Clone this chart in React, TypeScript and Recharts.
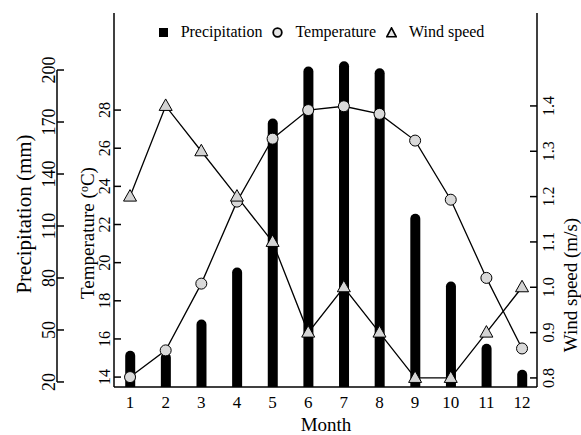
import { ComposedChart, Bar, Line, XAxis, YAxis, Legend, ReferenceLine } from "recharts";

const months = [1, 2, 3, 4, 5, 6, 7, 8, 9, 10, 11, 12];
const precipitation = [38, 37, 56, 86, 172, 202, 205, 201, 117, 78, 42, 27];
const temperature = [14.0, 15.4, 18.9, 23.2, 26.5, 28.0, 28.2, 27.8, 26.4, 23.3, 19.2, 15.5];
const windSpeed = [1.2, 1.4, 1.3, 1.2, 1.1, 0.9, 1.0, 0.9, 0.8, 0.8, 0.9, 1.0];

const precipTicks = [20, 50, 80, 110, 140, 170, 200];
const tempTicks = [14, 16, 18, 20, 22, 24, 26, 28];
const windTicks = [0.8, 0.9, 1.0, 1.1, 1.2, 1.3, 1.4];

const data = months.map((m, i) => ({
  month: m,
  precipitation: precipitation[i],
  temperature: temperature[i],
  wind: windSpeed[i],
}));

const FONT = "'Liberation Serif', 'Times New Roman', serif";
const W = 581;
const H = 435;
const TOP = 13;
const FRAME_L = 114;
const FRAME_R = 537;
const PRECIP_X = 57;

const xDomain = [0.55, 12.42];
const precipDomain = [17.1, 232.9];
const tempDomain = [13.48, 33.09];
const windDomain = [0.78, 1.605];

// the precipitation axis sits left of the box and only spans 20..200,
// so it is drawn as a reference segment placed outside the x range
const pxPerMonth = (FRAME_R - FRAME_L) / (xDomain[1] - xDomain[0]);
const precipAxisAt = xDomain[0] - (FRAME_L - PRECIP_X) / pxPerMonth;

// rotated (-90) text whose glyphs are centred on cx
const VText = ({ cx, cy, size, children }: any) => {
  const bx = cx + size * 0.35;
  return (
    <text
      x={bx}
      y={cy}
      transform={`rotate(-90 ${bx} ${cy})`}
      textAnchor="middle"
      fontFamily={FONT}
      fontSize={size}
      fill="#000"
    >
      {children}
    </text>
  );
};

const PrecipTick = (props: any) => {
  const y = Number(props.y);
  return (
    <g>
      <line x1={PRECIP_X} x2={PRECIP_X + 7} y1={y} y2={y} stroke="#000" strokeWidth={1.5} />
      <VText cx={49} cy={y} size={18}>
        {props.payload.value}
      </VText>
    </g>
  );
};

const TempTick = (props: any) => {
  const { y, payload } = props;
  return (
    <g>
      <line x1={FRAME_L} x2={FRAME_L + 7} y1={y} y2={y} stroke="#000" strokeWidth={1.5} />
      <VText cx={104} cy={y} size={16}>
        {payload.value}
      </VText>
    </g>
  );
};

const WindTick = (props: any) => {
  const { y, payload } = props;
  return (
    <g>
      <line x1={FRAME_R - 7} x2={FRAME_R} y1={y} y2={y} stroke="#000" strokeWidth={1.5} />
      <VText cx={548} cy={y} size={16}>
        {Number(payload.value).toFixed(1)}
      </VText>
    </g>
  );
};

const MonthTick = (props: any) => {
  const { x, payload } = props;
  return (
    <text x={x} y={408} textAnchor="middle" fontFamily={FONT} fontSize={17} fill="#000">
      {payload.value}
    </text>
  );
};

const Triangle = (props: any) => {
  const { cx, cy, index } = props;
  if (cx == null || cy == null) return <g key={index} />;
  return (
    <polygon
      key={index}
      points={`${cx},${cy - 7} ${cx - 6.5},${cy + 4.5} ${cx + 6.5},${cy + 4.5}`}
      fill="#d4d4d4"
      stroke="#000"
      strokeWidth={1}
    />
  );
};

const legendItems = [
  { name: "Precipitation", icon: <rect x={1} y={1} width={9} height={9} fill="#000" /> },
  { name: "Temperature", icon: <circle cx={5.5} cy={5.5} r={4.3} fill="#e6e6e6" stroke="#000" strokeWidth={1.8} /> },
  { name: "Wind speed", icon: <polygon points="5.5,0.8 0.8,9.8 10.2,9.8" fill="#e6e6e6" stroke="#000" strokeWidth={1.6} /> },
];

const renderLegend = () => (
  <div
    style={{
      display: "flex",
      justifyContent: "center",
      alignItems: "center",
      fontFamily: FONT,
      fontSize: 16,
      color: "#000",
      gap: 10,
    }}
  >
    {legendItems.map((it) => (
      <div key={it.name} style={{ display: "flex", alignItems: "center", gap: 12 }}>
        <svg width={11} height={11}>{it.icon}</svg>
        <span>{it.name}</span>
      </div>
    ))}
  </div>
);

export default function App() {
  return (
    <div style={{ position: "absolute", left: 0, top: 0, width: W, height: H, background: "#fff" }}>
      <ComposedChart width={W} height={H} data={data} margin={{ top: TOP, right: 0, bottom: 0, left: 0 }}>
        <XAxis
          dataKey="month"
          type="number"
          domain={xDomain}
          ticks={months}
          allowDataOverflow
          interval={0}
          height={48}
          axisLine={{ stroke: "#000", strokeWidth: 1.5 }}
          tickLine={false}
          tick={<MonthTick />}
          label={{
            content: () => (
              <text x={326} y={431} textAnchor="middle" fontFamily={FONT} fontSize={19} fill="#000">
                Month
              </text>
            ),
          }}
        />
        {/* top edge of the box */}
        <XAxis
          xAxisId="top"
          orientation="top"
          dataKey="month"
          type="number"
          domain={xDomain}
          allowDataOverflow
          height={0}
          tick={false}
          tickLine={false}
          axisLine={{ stroke: "#000", strokeWidth: 1.5 }}
        />
        <YAxis
          yAxisId="temp"
          orientation="left"
          width={57}
          domain={tempDomain}
          ticks={tempTicks}
          allowDataOverflow
          interval={0}
          axisLine={false}
          tickLine={false}
          tick={<TempTick />}
          label={{
            content: () => (
              <VText cx={87} cy={233} size={19}>
                Temperature (<tspan dy={-6} fontSize={12}>o</tspan>
                <tspan dy={6}>C)</tspan>
              </VText>
            ),
          }}
        />
        <YAxis
          yAxisId="precip"
          orientation="left"
          width={57}
          domain={precipDomain}
          ticks={precipTicks}
          allowDataOverflow
          interval={0}
          axisLine={false}
          tickLine={false}
          tick={<PrecipTick />}
          label={{
            content: () => (
              <VText cx={24} cy={214} size={21}>
                Precipitation (mm)
              </VText>
            ),
          }}
        />
        <YAxis
          yAxisId="wind"
          orientation="right"
          width={44}
          domain={windDomain}
          ticks={windTicks}
          allowDataOverflow
          interval={0}
          axisLine={{ stroke: "#000", strokeWidth: 1.5 }}
          tickLine={false}
          tick={<WindTick />}
          label={{
            content: () => (
              <VText cx={570} cy={285} size={19}>
                Wind speed (m/s)
              </VText>
            ),
          }}
        />
        <Legend
          verticalAlign="middle"
          layout="horizontal"
          wrapperStyle={{ top: 23, left: 0, width: 642, height: 18 }}
          content={renderLegend}
        />
        {/* left edge of the box */}
        <ReferenceLine yAxisId="temp" x={xDomain[0]} stroke="#000" strokeWidth={1.5} ifOverflow="visible" />
        {/* precipitation axis line, 20..200 */}
        <ReferenceLine
          yAxisId="precip"
          segment={[
            { x: precipAxisAt, y: precipTicks[0] },
            { x: precipAxisAt, y: precipTicks[precipTicks.length - 1] },
          ]}
          stroke="#000"
          strokeWidth={1.5}
          ifOverflow="visible"
        />
        <Bar
          yAxisId="precip"
          dataKey="precipitation"
          name="Precipitation"
          fill="#000"
          barSize={10}
          radius={[5, 5, 0, 0]}
          isAnimationActive={false}
        />
        <Line
          yAxisId="temp"
          type="linear"
          dataKey="temperature"
          name="Temperature"
          stroke="#000"
          strokeWidth={1.3}
          dot={{ r: 5.5, fill: "#d9d9d9", stroke: "#000", strokeWidth: 1 }}
          activeDot={false}
          isAnimationActive={false}
        />
        <Line
          yAxisId="wind"
          type="linear"
          dataKey="wind"
          name="Wind speed"
          stroke="#000"
          strokeWidth={1.3}
          dot={<Triangle />}
          activeDot={false}
          isAnimationActive={false}
        />
      </ComposedChart>
    </div>
  );
}
